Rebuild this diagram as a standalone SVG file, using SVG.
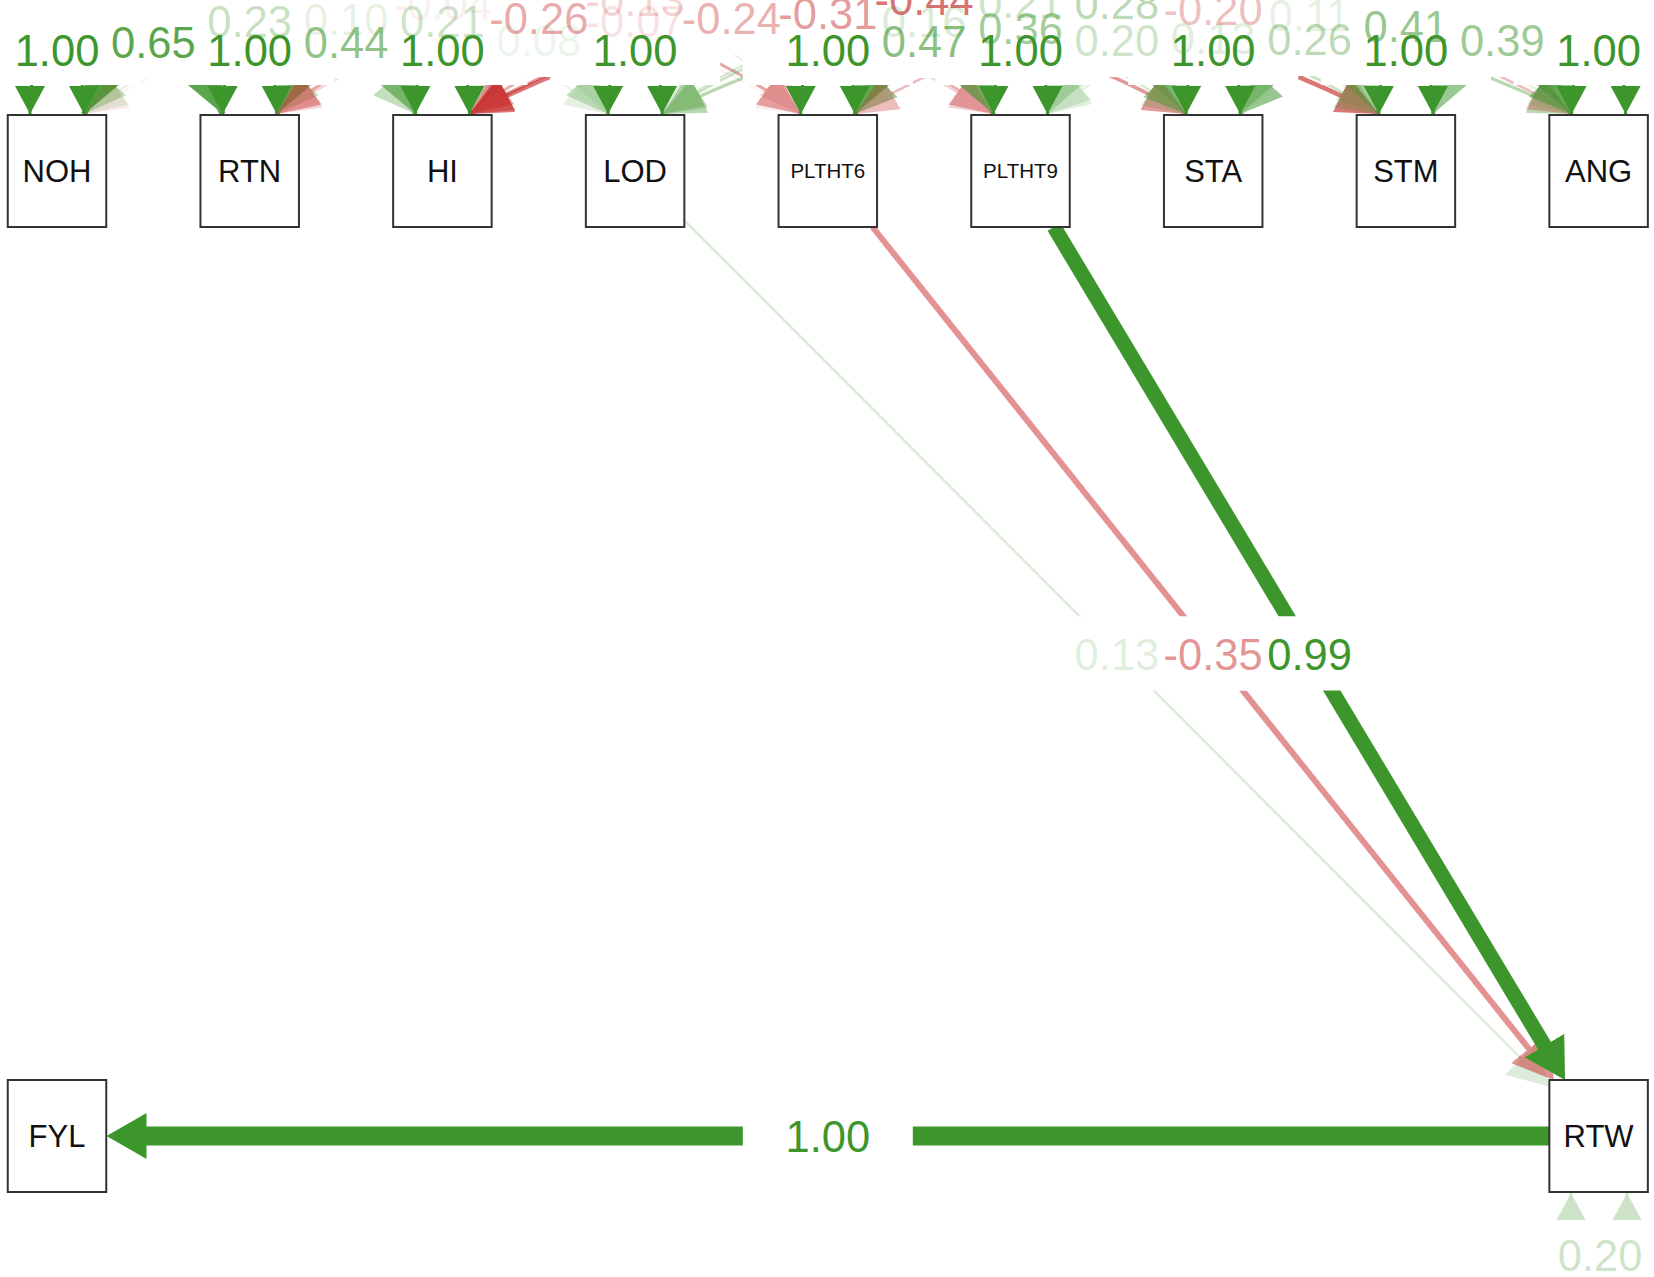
<svg xmlns="http://www.w3.org/2000/svg" width="1654" height="1277" viewBox="0 0 1654 1277">
<defs>
<style>
.g path{fill:none;stroke:#3d962c}
.r path{fill:none;stroke:#c41e1e}
text.el{font-family:"Liberation Sans",Arial,sans-serif;font-size:43.5px;text-anchor:middle}
.pos{fill:#3d962c}
.neg{fill:#c41e1e}
text.nl{font-family:"Liberation Sans",Arial,sans-serif;font-size:31px;text-anchor:middle;fill:#111}
text.sm{font-size:20.5px}
rect.node{fill:#fff;stroke:#333;stroke-width:2}
rect.lbg{fill:#fff}
</style>
<marker id="sg" viewBox="0 0 28 30" refX="28" refY="15" markerWidth="28" markerHeight="30" markerUnits="userSpaceOnUse" orient="auto-start-reverse"><path d="M0,0 L28,15 L0,30 Z" fill="#3d962c"/></marker>
<marker id="cg" viewBox="0 0 42 38" refX="42" refY="19" markerWidth="42" markerHeight="38" markerUnits="userSpaceOnUse" orient="auto-start-reverse"><path d="M0,0 L42,19 L0,38 Z" fill="#3d962c"/></marker>
<marker id="cr" viewBox="0 0 42 38" refX="42" refY="19" markerWidth="42" markerHeight="38" markerUnits="userSpaceOnUse" orient="auto-start-reverse"><path d="M0,0 L42,19 L0,38 Z" fill="#c41e1e"/></marker>
<marker id="bg" viewBox="0 0 40 46" refX="1" refY="23" markerWidth="40" markerHeight="46" markerUnits="userSpaceOnUse" orient="auto"><path d="M0,0 L40,23 L0,46 Z" fill="#3d962c"/></marker>
<marker id="br" viewBox="0 0 40 46" refX="1" refY="23" markerWidth="40" markerHeight="46" markerUnits="userSpaceOnUse" orient="auto"><path d="M0,0 L40,23 L0,46 Z" fill="#c41e1e"/></marker>
</defs>
<rect x="0" y="0" width="1654" height="1277" fill="#fff"/>

<g id="connectors">
  <!-- covariances among exogenous variables -->
  <g class="g" opacity="0.845"><path d="M84,114 Q153.35,-30 222.7,114" stroke-width="6.2" marker-start="url(#cg)" marker-end="url(#cg)"/></g>
  <g class="g" opacity="0.30"><path d="M84,114 Q249.7,-72 415.4,114" stroke-width="2.8" marker-start="url(#cg)" marker-end="url(#cg)"/></g>
  <g class="g" opacity="0.57"><path d="M276.7,114 Q346.05,-30 415.4,114" stroke-width="4.5" marker-start="url(#cg)" marker-end="url(#cg)"/></g>
  <g class="g" opacity="0.13"><path d="M84,114 Q346.05,-76 608.1,114" stroke-width="1.8" marker-start="url(#cg)" marker-end="url(#cg)"/></g>
  <g class="g" opacity="0.27"><path d="M276.7,114 Q442.4,-72 608.1,114" stroke-width="2.7" marker-start="url(#cg)" marker-end="url(#cg)"/></g>
  <g class="r" opacity="0.08"><path d="M84,114 Q442.4,-106 800.8,114" stroke-width="1.3" marker-start="url(#cr)" marker-end="url(#cr)"/></g>
  <g class="g" opacity="0.10"><path d="M469.4,114 Q538.75,-34 608.1,114" stroke-width="1.6" marker-start="url(#cg)" marker-end="url(#cg)"/></g>
  <g class="r" opacity="0.38"><path d="M276.7,114 Q538.75,-78 800.8,114" stroke-width="3.1" marker-start="url(#cr)" marker-end="url(#cr)"/></g>
  <g class="r" opacity="0.12"><path d="M469.4,114 Q635.1,-72 800.8,114" stroke-width="1.6" marker-start="url(#cr)" marker-end="url(#cr)"/></g>
  <g class="r" opacity="0.19"><path d="M276.7,114 Q635.1,-114 993.5,114" stroke-width="2" marker-start="url(#cr)" marker-end="url(#cr)"/></g>
  <g class="r" opacity="0.35"><path d="M469.4,114 Q731.45,-78 993.5,114" stroke-width="2.9" marker-start="url(#cr)" marker-end="url(#cr)"/></g>
  <g class="r" opacity="0.45"><path d="M469.4,114 Q827.8,-88 1186.2,114" stroke-width="3.5" marker-start="url(#cr)" marker-end="url(#cr)"/></g>
  <g class="r" opacity="0.60"><path d="M469.4,114 Q924.15,-116 1378.9,114" stroke-width="4.5" marker-start="url(#cr)" marker-end="url(#cr)"/></g>
  <g class="g" opacity="0.21"><path d="M662.1,114 Q924.15,-72 1186.2,114" stroke-width="2.3" marker-start="url(#cg)" marker-end="url(#cg)"/></g>
  <g class="g" opacity="0.61"><path d="M854.8,114 Q924.15,-32 993.5,114" stroke-width="4.8" marker-start="url(#cg)" marker-end="url(#cg)"/></g>
  <g class="g" opacity="0.47"><path d="M854.8,114 Q1020.5,-58 1186.2,114" stroke-width="3.9" marker-start="url(#cg)" marker-end="url(#cg)"/></g>
  <g class="g" opacity="0.27"><path d="M662.1,114 Q1020.5,-110 1378.9,114" stroke-width="2.7" marker-start="url(#cg)" marker-end="url(#cg)"/></g>
  <g class="g" opacity="0.26"><path d="M1047.5,114 Q1116.85,-34 1186.2,114" stroke-width="2.6" marker-start="url(#cg)" marker-end="url(#cg)"/></g>
  <g class="g" opacity="0.36"><path d="M662.1,114 Q1116.85,-108 1571.6,114" stroke-width="3.2" marker-start="url(#cg)" marker-end="url(#cg)"/></g>
  <g class="g" opacity="0.17"><path d="M1047.5,114 Q1213.2,-38 1378.9,114" stroke-width="2" marker-start="url(#cg)" marker-end="url(#cg)"/></g>
  <g class="r" opacity="0.29"><path d="M854.8,114 Q1213.2,-96 1571.6,114" stroke-width="2.6" marker-start="url(#cr)" marker-end="url(#cr)"/></g>
  <g class="g" opacity="0.34"><path d="M1240.2,114 Q1309.55,-36 1378.9,114" stroke-width="3.1" marker-start="url(#cg)" marker-end="url(#cg)"/></g>
  <g class="g" opacity="0.14"><path d="M1047.5,114 Q1309.55,-84 1571.6,114" stroke-width="1.9" marker-start="url(#cg)" marker-end="url(#cg)"/></g>
  <g class="g" opacity="0.53"><path d="M1240.2,114 Q1405.9,-62 1571.6,114" stroke-width="4.3" marker-start="url(#cg)" marker-end="url(#cg)"/></g>
  <g class="g" opacity="0.51"><path d="M1432.9,114 Q1502.25,-34 1571.6,114" stroke-width="4.1" marker-start="url(#cg)" marker-end="url(#cg)"/></g>

  <!-- residual variances (top row) -->
  <g class="g">
    <path d="M30,114 C30,14 84,14 84,114" stroke-width="3" marker-start="url(#sg)" marker-end="url(#sg)"/>
    <path d="M222.7,114 C222.7,14 276.7,14 276.7,114" stroke-width="3" marker-start="url(#sg)" marker-end="url(#sg)"/>
    <path d="M415.4,114 C415.4,14 469.4,14 469.4,114" stroke-width="3" marker-start="url(#sg)" marker-end="url(#sg)"/>
    <path d="M608.1,114 C608.1,14 662.1,14 662.1,114" stroke-width="3" marker-start="url(#sg)" marker-end="url(#sg)"/>
    <path d="M800.8,114 C800.8,14 854.8,14 854.8,114" stroke-width="3" marker-start="url(#sg)" marker-end="url(#sg)"/>
    <path d="M993.5,114 C993.5,14 1047.5,14 1047.5,114" stroke-width="3" marker-start="url(#sg)" marker-end="url(#sg)"/>
    <path d="M1186.2,114 C1186.2,14 1240.2,14 1240.2,114" stroke-width="3" marker-start="url(#sg)" marker-end="url(#sg)"/>
    <path d="M1378.9,114 C1378.9,14 1432.9,14 1432.9,114" stroke-width="3" marker-start="url(#sg)" marker-end="url(#sg)"/>
    <path d="M1571.6,114 C1571.6,14 1625.6,14 1625.6,114" stroke-width="3" marker-start="url(#sg)" marker-end="url(#sg)"/>
  </g>
  <!-- residual of RTW -->
  <g class="g" opacity="0.26"><path d="M1571,1193 C1571,1290 1627,1290 1627,1193" stroke-width="3" marker-start="url(#sg)" marker-end="url(#sg)"/></g>

  <!-- regressions -->
  <g class="g" opacity="0.17"><path d="M684.35,220.3 L1521.8,1059.1" stroke-width="2.5" marker-end="url(#bg)"/></g>
  <g class="r" opacity="0.48"><path d="M872.5,227 L1529.5,1049.5" stroke-width="6" marker-end="url(#br)"/></g>
  <g class="g"><path d="M1054,227 L1545,1046.5" stroke-width="15" marker-end="url(#bg)"/></g>
  <g class="g"><path d="M1549.35,1136 L145.5,1136" stroke-width="19" marker-end="url(#bg)"/></g>
</g>

<g id="nodes">
  <g id="NOH"><rect class="node" x="7.75" y="115" width="98.5" height="112"/><text class="nl" x="57" y="182">NOH</text></g>
  <g id="RTN"><rect class="node" x="200.45" y="115" width="98.5" height="112"/><text class="nl" x="249.7" y="182">RTN</text></g>
  <g id="HI"><rect class="node" x="393.15" y="115" width="98.5" height="112"/><text class="nl" x="442.4" y="182">HI</text></g>
  <g id="LOD"><rect class="node" x="585.85" y="115" width="98.5" height="112"/><text class="nl" x="635.1" y="182">LOD</text></g>
  <g id="PLTHT6"><rect class="node" x="778.55" y="115" width="98.5" height="112"/><text class="nl sm" x="827.8" y="178.3">PLTHT6</text></g>
  <g id="PLTHT9"><rect class="node" x="971.25" y="115" width="98.5" height="112"/><text class="nl sm" x="1020.5" y="178.3">PLTHT9</text></g>
  <g id="STA"><rect class="node" x="1163.95" y="115" width="98.5" height="112"/><text class="nl" x="1213.2" y="182">STA</text></g>
  <g id="STM"><rect class="node" x="1356.65" y="115" width="98.5" height="112"/><text class="nl" x="1405.9" y="182">STM</text></g>
  <g id="ANG"><rect class="node" x="1549.35" y="115" width="98.5" height="112"/><text class="nl" x="1598.6" y="182">ANG</text></g>
  <g id="FYL"><rect class="node" x="7.75" y="1080" width="98.5" height="112"/><text class="nl" x="57" y="1147">FYL</text></g>
  <g id="RTW"><rect class="node" x="1549.35" y="1080" width="98.5" height="112"/><text class="nl" x="1598.6" y="1147">RTW</text></g>
</g>

<g id="label-backgrounds">
  <rect class="lbg" x="-28" y="13" width="170" height="72"/>
  <rect class="lbg" x="164.7" y="13" width="170" height="72"/>
  <rect class="lbg" x="357.4" y="13" width="170" height="72"/>
  <rect class="lbg" x="550.1" y="13" width="170" height="72"/>
  <rect class="lbg" x="742.8" y="13" width="170" height="72"/>
  <rect class="lbg" x="935.5" y="13" width="170" height="72"/>
  <rect class="lbg" x="1128.2" y="13" width="170" height="72"/>
  <rect class="lbg" x="1320.9" y="13" width="170" height="72"/>
  <rect class="lbg" x="1513.6" y="13" width="170" height="72"/>
  <rect class="lbg" x="68.35" y="5" width="170" height="74"/>
  <rect class="lbg" x="164.7" y="-16" width="170" height="74"/>
  <rect class="lbg" x="261.05" y="5" width="170" height="74"/>
  <rect class="lbg" x="261.05" y="-18" width="170" height="74"/>
  <rect class="lbg" x="357.4" y="-16" width="170" height="74"/>
  <rect class="lbg" x="343.4" y="-33" width="198" height="74"/>
  <rect class="lbg" x="453.75" y="3" width="170" height="74"/>
  <rect class="lbg" x="439.75" y="-19" width="198" height="74"/>
  <rect class="lbg" x="536.1" y="-16" width="198" height="74"/>
  <rect class="lbg" x="536.1" y="-37" width="198" height="74"/>
  <rect class="lbg" x="632.45" y="-19" width="198" height="74"/>
  <rect class="lbg" x="728.8" y="-24" width="198" height="74"/>
  <rect class="lbg" x="825.15" y="-38" width="198" height="74"/>
  <rect class="lbg" x="839.15" y="-16" width="170" height="74"/>
  <rect class="lbg" x="839.15" y="4" width="170" height="74"/>
  <rect class="lbg" x="935.5" y="-9" width="170" height="74"/>
  <rect class="lbg" x="935.5" y="-35" width="170" height="74"/>
  <rect class="lbg" x="1031.85" y="3" width="170" height="74"/>
  <rect class="lbg" x="1031.85" y="-34" width="170" height="74"/>
  <rect class="lbg" x="1128.2" y="1" width="170" height="74"/>
  <rect class="lbg" x="1114.2" y="-28" width="198" height="74"/>
  <rect class="lbg" x="1224.55" y="2" width="170" height="74"/>
  <rect class="lbg" x="1224.55" y="-22" width="170" height="74"/>
  <rect class="lbg" x="1320.9" y="-11" width="170" height="74"/>
  <rect class="lbg" x="1417.25" y="3" width="170" height="74"/>
  <rect class="lbg" x="1031.85" y="616.5" width="170" height="74"/>
  <rect class="lbg" x="1114.2" y="616.5" width="198" height="74"/>
  <rect class="lbg" x="1224.55" y="616.5" width="170" height="74"/>
  <rect class="lbg" x="742.8" y="1099" width="170" height="74"/>
  <rect class="lbg" x="1515" y="1220" width="170" height="74"/>
</g>

<g id="edge-labels">
  <text class="el pos" x="57" y="66">1.00</text>
  <text class="el pos" x="249.7" y="66">1.00</text>
  <text class="el pos" x="442.4" y="66">1.00</text>
  <text class="el pos" x="635.1" y="66">1.00</text>
  <text class="el pos" x="827.8" y="66">1.00</text>
  <text class="el pos" x="1020.5" y="66">1.00</text>
  <text class="el pos" x="1213.2" y="66">1.00</text>
  <text class="el pos" x="1405.9" y="66">1.00</text>
  <text class="el pos" x="1598.6" y="66">1.00</text>

  <text class="el pos" x="153.35" y="57.6" fill-opacity="0.845">0.65</text>
  <text class="el pos" x="249.7" y="36.6" fill-opacity="0.30">0.23</text>
  <text class="el pos" x="346.05" y="57.6" fill-opacity="0.57">0.44</text>
  <text class="el pos" x="346.05" y="34.6" fill-opacity="0.13">0.10</text>
  <text class="el pos" x="442.4" y="36.6" fill-opacity="0.27">0.21</text>
  <text class="el neg" x="442.4" y="19.6" fill-opacity="0.08">-0.04</text>
  <text class="el pos" x="538.75" y="55.6" fill-opacity="0.10">0.08</text>
  <text class="el neg" x="538.75" y="33.6" fill-opacity="0.38">-0.26</text>
  <text class="el neg" x="635.1" y="36.6" fill-opacity="0.14">-0.07</text>
  <text class="el neg" x="635.1" y="15.6" fill-opacity="0.19">-0.13</text>
  <text class="el neg" x="731.45" y="33.6" fill-opacity="0.35">-0.24</text>
  <text class="el neg" x="827.8" y="28.6" fill-opacity="0.45">-0.31</text>
  <text class="el neg" x="924.15" y="14.6" fill-opacity="0.64">-0.44</text>
  <text class="el pos" x="924.15" y="36.6" fill-opacity="0.21">0.16</text>
  <text class="el pos" x="924.15" y="56.6" fill-opacity="0.61">0.47</text>
  <text class="el pos" x="1020.5" y="43.6" fill-opacity="0.47">0.36</text>
  <text class="el pos" x="1020.5" y="17.6" fill-opacity="0.27">0.21</text>
  <text class="el pos" x="1116.85" y="55.6" fill-opacity="0.26">0.20</text>
  <text class="el pos" x="1116.85" y="18.6" fill-opacity="0.36">0.28</text>
  <text class="el pos" x="1213.2" y="53.6" fill-opacity="0.17">0.13</text>
  <text class="el neg" x="1213.2" y="24.6" fill-opacity="0.29">-0.20</text>
  <text class="el pos" x="1309.55" y="54.6" fill-opacity="0.34">0.26</text>
  <text class="el pos" x="1309.55" y="30.6" fill-opacity="0.14">0.11</text>
  <text class="el pos" x="1405.9" y="41.6" fill-opacity="0.53">0.41</text>
  <text class="el pos" x="1502.25" y="55.6" fill-opacity="0.51">0.39</text>

  <text class="el pos" x="1116.85" y="670" fill-opacity="0.17">0.13</text>
  <text class="el neg" x="1213.2" y="670" fill-opacity="0.48">-0.35</text>
  <text class="el pos" x="1309.55" y="670">0.99</text>
  <text class="el pos" x="827.8" y="1152">1.00</text>
  <text class="el pos" x="1600" y="1271" fill-opacity="0.26">0.20</text>
</g>
</svg>
